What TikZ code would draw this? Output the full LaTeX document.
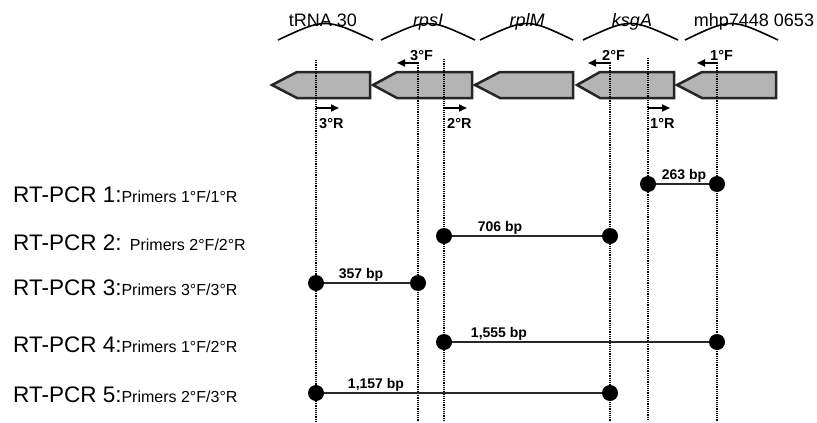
\documentclass[tikz,border=0pt]{standalone}
\usepackage{fontspec}
\setmainfont{Liberation Sans}
\usetikzlibrary{arrows.meta}
\definecolor{genegray}{RGB}{180,180,180}
\definecolor{prodline}{RGB}{40,40,40}
\begin{document}
\begin{tikzpicture}[x=1pt,y=-1pt,
  gene/.style={draw=black!85, line width=2.5pt, fill=genegray, line join=miter},
  genearc/.style={line width=1.6pt},
  guide/.style={line width=1.7pt, dash pattern=on 1.1pt off 1.1pt},
  primer/.style={line width=1.7pt, -{Triangle[length=8pt,width=7pt]}},
  plabel/.style={font=\bfseries\fontsize{14.5}{14.5}\selectfont, inner sep=0pt},
  genelabel/.style={font=\fontsize{18}{18}\selectfont, inner sep=0pt, anchor=base},
  dot/.style={circle, fill=black, minimum size=16pt, inner sep=0pt},
  product/.style={line width=2.6pt, draw=prodline},
  bplabel/.style={font=\bfseries\fontsize{14}{14}\selectfont, inner sep=0pt, anchor=base},
  rowlabel/.style={inner sep=0pt, anchor=base west}
]
\useasboundingbox (0,0) rectangle (817,423);

% gene labels
\node[genelabel] (lt) at (323,26) {tRNA 30};
\node[genelabel] (ls) at (428,26) {\itshape rpsI};
\node[genelabel] (lm) at (527,26) {\itshape rplM};
\node[genelabel] (lk) at (632,26) {\itshape ksgA};
\node[genelabel] (lh) at (754,26) {mhp7448 0653};

% arcs
\draw[genearc] (278,40) .. controls (325,18) .. (373,40);
\draw[genearc] (381,40) .. controls (428,18) .. (475,40);
\draw[genearc] (480,40) .. controls (527,18) .. (573,40);
\draw[genearc] (583,40) .. controls (630,18) .. (678,40);
\draw[genearc] (685,40) .. controls (731,18) .. (778,40);

% genes
\draw[gene] (272,85) -- (297,72) -- (370,72) -- (370,98) -- (297,98) -- cycle;
\draw[gene] (373,85) -- (397,72) -- (472,72) -- (472,98) -- (397,98) -- cycle;
\draw[gene] (475,85) -- (500,72) -- (573,72) -- (573,98) -- (500,98) -- cycle;
\draw[gene] (577,85) -- (600,72) -- (674,72) -- (674,98) -- (600,98) -- cycle;
\draw[gene] (677,85) -- (702,72) -- (776,72) -- (776,98) -- (702,98) -- cycle;

% guide coordinates
\coordinate (t3R) at (316,60);  \coordinate (b3R) at (316,421);
\coordinate (t3F) at (418,63);  \coordinate (b3F) at (418,421);
\coordinate (t2R) at (444,59);  \coordinate (b2R) at (444,421);
\coordinate (t2F) at (610,63);  \coordinate (b2F) at (610,421);
\coordinate (t1R) at (648,58);  \coordinate (b1R) at (648,421);
\coordinate (t1F) at (717,63);  \coordinate (b1F) at (717,421);
\foreach \p in {3R,3F,2R,2F,1R,1F} \draw[guide] (t\p) -- (b\p);

% primer arrows
\coordinate (a3R) at (316,108); \coordinate (e3R) at (339,108);
\coordinate (a2R) at (444,108); \coordinate (e2R) at (467,108);
\coordinate (a1R) at (648,108); \coordinate (e1R) at (670,108);
\coordinate (a3F) at (419,63);  \coordinate (e3F) at (397,63);
\coordinate (a2F) at (611,63);  \coordinate (e2F) at (588,63);
\coordinate (a1F) at (718,63);  \coordinate (e1F) at (697,63);
\foreach \p in {3R,2R,1R,3F,2F,1F} \draw[primer] (a\p) -- (e\p);

\node[plabel, anchor=base west] (n3R) at (319,128) {3°R};
\node[plabel, anchor=base west] (n2R) at (447,128) {2°R};
\node[plabel, anchor=base west] (n1R) at (650,128) {1°R};
\node[plabel, anchor=base west] (n3F) at (410,60) {3°F};
\node[plabel, anchor=base west] (n2F) at (602,60) {2°F};
\node[plabel, anchor=base west] (n1F) at (710,60) {1°F};

% row labels
\node[rowlabel] (r1) at (13,202) {\fontsize{22.5}{22.5}\selectfont RT-PCR 1:\fontsize{16}{16}\selectfont Primers 1°F/1°R};
\node[rowlabel] (r2) at (13,250) {\fontsize{22.5}{22.5}\selectfont RT-PCR 2: \fontsize{16}{16}\selectfont Primers 2°F/2°R};
\node[rowlabel] (r3) at (13,295) {\fontsize{22.5}{22.5}\selectfont RT-PCR 3:\fontsize{16}{16}\selectfont Primers 3°F/3°R};
\node[rowlabel] (r4) at (13,352) {\fontsize{22.5}{22.5}\selectfont RT-PCR 4:\fontsize{16}{16}\selectfont Primers 1°F/2°R};
\node[rowlabel] (r5) at (13,402) {\fontsize{22.5}{22.5}\selectfont RT-PCR 5:\fontsize{16}{16}\selectfont Primers 2°F/3°R};

% products
\node[dot] (d1a) at (648,184) {};  \node[dot] (d1b) at (717,184) {};
\node[dot] (d2a) at (444,236) {};  \node[dot] (d2b) at (610,236) {};
\node[dot] (d3a) at (316,283) {};  \node[dot] (d3b) at (418,283) {};
\node[dot] (d4a) at (444,342) {};  \node[dot] (d4b) at (717,342) {};
\node[dot] (d5a) at (316,393) {};  \node[dot] (d5b) at (610,393) {};
\draw[product] (d1a) -- (d1b);
\draw[product] (d2a) -- (d2b);
\draw[product] (d3a) -- (d3b);
\draw[product] (d4a) -- (d4b);
\draw[product] (d5a) -- (d5b);

\node[bplabel] (p1) at (684,179) {263 bp};
\node[bplabel] (p2) at (500,231) {706 bp};
\node[bplabel] (p3) at (361,278) {357 bp};
\node[bplabel] (p4) at (499,337) {1,555 bp};
\node[bplabel] (p5) at (376,388) {1,157 bp};
\end{tikzpicture}
\end{document}
